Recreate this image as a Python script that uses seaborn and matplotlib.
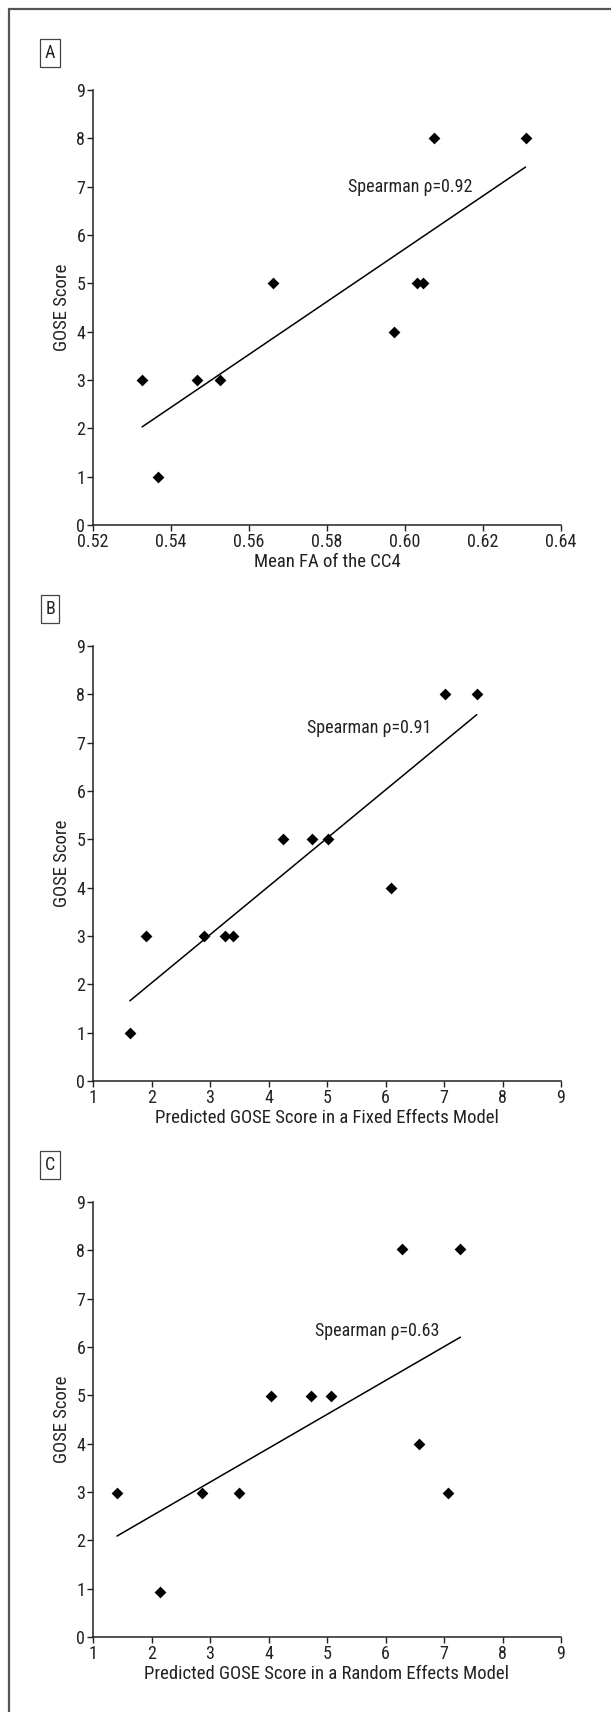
import numpy as np
import matplotlib
matplotlib.use("Agg")
import matplotlib.pyplot as plt
from matplotlib import font_manager as fm
import seaborn as sns
from matplotlib.lines import Line2D

# DATA
# panel A: mean FA of the CC4 vs GOSE
fa_cc4 = [0.5326, 0.5367, 0.5467, 0.5525, 0.5661, 0.5972, 0.6030, 0.6046, 0.6074, 0.6309]
gose_a = [3, 1, 3, 3, 5, 4, 5, 5, 8, 8]

# panel B: fixed effects model prediction vs GOSE
pred_fixed = [1.63, 1.90, 2.90, 3.25, 3.39, 4.24, 4.74, 5.02, 6.09, 7.01, 7.56]
gose_b = [1, 3, 3, 3, 3, 5, 5, 5, 4, 8, 8]

# panel C: random effects model prediction vs GOSE
pred_random = [1.41, 2.14, 2.87, 3.49, 4.04, 4.73, 5.06, 6.28, 6.58, 7.06, 7.28]
gose_c = [2.97, 0.93, 2.97, 2.97, 4.98, 4.98, 4.98, 8.03, 4.0, 2.97, 8.03]

panel_letters = ["A", "B", "C"]
xlabels = ["Mean FA of the CC4",
           "Predicted GOSE Score in a Fixed Effects Model",
           "Predicted GOSE Score in a Random Effects Model"]
rho_text = ["0.92", "0.91", "0.63"]
rho_pos = [(0.5855, 7.0), (4.66, 7.31), (4.80, 6.33)]
xlims = [(0.52, 0.64), (1, 9), (1, 9)]
xticks = [[0.52, 0.54, 0.56, 0.58, 0.60, 0.62, 0.64], list(range(1, 10)), list(range(1, 10))]
xticklabels = [["0.52", "0.54", "0.56", "0.58", "0.60", "0.62", "0.64"],
               [str(i) for i in range(1, 10)], [str(i) for i in range(1, 10)]]

#-------------------------------
sns.set_style("ticks")

# pick a narrow sans font if one is installed (original uses a condensed Helvetica)
fonts = fm.fontManager.ttflist
names = {f.name for f in fonts}
stretch = 'normal'
if 'Liberation Sans Narrow' in names:
    fam = 'Liberation Sans Narrow'
elif 'Roboto Condensed' in names:
    fam = 'Roboto Condensed'
elif any(f.name == 'DejaVu Sans' and 'condensed' in str(f.stretch) for f in fonts):
    fam = 'DejaVu Sans'
    stretch = 'condensed'
else:
    fam = 'Liberation Sans'
plt.rcParams['font.family'] = [fam, 'DejaVu Sans']
plt.rcParams['font.stretch'] = stretch

W, H = 611, 1712
fig = plt.figure(figsize=(W / 100, H / 100), dpi=100)

# frame (top + left only, the figure is cut from a page)
fig.add_artist(Line2D([8.5 / W, 1.0], [1 - 9 / H, 1 - 9 / H], color='#555555', lw=1.6))
fig.add_artist(Line2D([8.5 / W, 8.5 / W], [0.0, 1 - 9 / H], color='#555555', lw=1.6))

xs = [fa_cc4, pred_fixed, pred_random]
ys = [gose_a, gose_b, gose_c]
tops = [90, 646, 1202]

for i in range(3):
    top = tops[i]
    ax = fig.add_axes([93 / W, 1 - (top + 435) / H, (561 - 93) / W, 435 / H])
    # scatter + least squares line over the data range
    sns.regplot(x=np.array(xs[i]), y=np.array(ys[i]), ax=ax, ci=None, marker='D', truncate=True,
                scatter_kws=dict(s=36, color='black', linewidths=0, alpha=1),
                line_kws=dict(color='black', lw=1.1))
    ax.set_xlim(*xlims[i])
    ax.set_ylim(0, 9)
    ax.set_xticks(xticks[i])
    ax.set_xticklabels(xticklabels[i])
    ax.set_yticks(range(0, 10))
    ax.tick_params(direction='out', length=4, width=1, labelsize=13, pad=1.5, colors='#222222')
    sns.despine(ax=ax)
    for s in ['left', 'bottom']:
        ax.spines[s].set_linewidth(1.1)
        ax.spines[s].set_color('#222222')
    ax.set_xlabel(xlabels[i], fontsize=13.5, labelpad=2, color='#222222')
    ax.set_ylabel('GOSE Score', fontsize=13.5, labelpad=4, color='#222222')
    ax.text(rho_pos[i][0], rho_pos[i][1], 'Spearman \u03c1=' + rho_text[i],
            fontsize=13, va='center', ha='left', color='#222222')

    # panel letter box
    fig.text(50 / W, 1 - (top - 37) / H, panel_letters[i], fontsize=13, ha='center', va='center',
             color='#222222',
             bbox=dict(boxstyle='square,pad=0.25', facecolor='white', edgecolor='#444444', lw=0.9))

plt.savefig('out.png', dpi=100)
